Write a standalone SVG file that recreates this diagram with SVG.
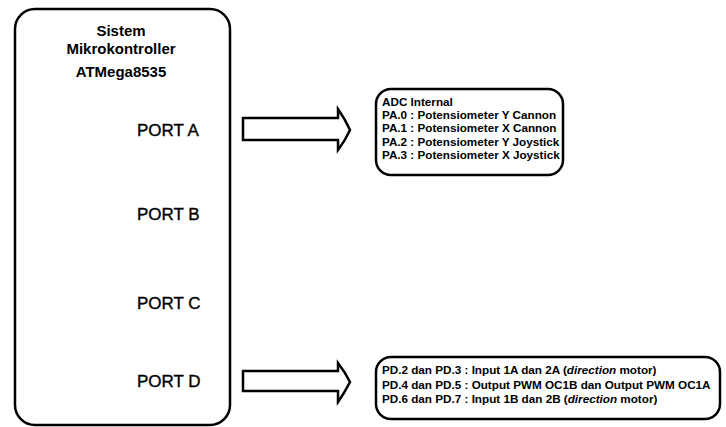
<svg xmlns="http://www.w3.org/2000/svg" width="726" height="427" viewBox="0 0 726 427">
<style>
.box{fill:#fff;stroke:#000;stroke-width:2.5}
.title{font-family:"Liberation Sans",Arial,sans-serif;font-weight:bold;font-size:15px;text-anchor:middle}
.port{font-family:"Liberation Sans",Arial,sans-serif;font-size:17px;stroke:#000;stroke-width:0.35}
.info{font-family:"Liberation Sans",Arial,sans-serif;font-weight:bold;font-size:11.7px}
.arrow{fill:#fff;stroke:#000;stroke-width:2.5;stroke-linejoin:miter}
</style>
<rect width="726" height="427" fill="#fff"/>
<g id="mcu">
<rect class="box" x="15" y="9" width="215" height="416" rx="20"/>
<text class="title" x="121" y="36">Sistem</text>
<text class="title" x="121" y="54">Mikrokontroller</text>
<text class="title" x="121" y="77">ATMega8535</text>
<text class="port" x="137" y="136">PORT A</text>
<text class="port" x="137" y="220">PORT B</text>
<text class="port" x="137" y="309">PORT C</text>
<text class="port" x="137" y="387">PORT D</text>
</g>
<g id="connectors">
<path class="arrow" d="M243,118 H338 V109 Q345,119 350,130 Q345,141 338,150 V140 H243 Z"/>
<path class="arrow" d="M243,371 H338 V363 Q345,372 350,382 Q345,392 338,402 V391 H243 Z"/>
</g>
<g id="portA-info">
<rect class="box" x="376" y="89" width="187" height="86" rx="15"/>
<text class="info" x="382" y="106">ADC Internal</text>
<text class="info" x="382" y="119">PA.0 : Potensiometer Y Cannon</text>
<text class="info" x="382" y="132">PA.1 : Potensiometer X Cannon</text>
<text class="info" x="382" y="145.5">PA.2 : Potensiometer Y Joystick</text>
<text class="info" x="382" y="159">PA.3 : Potensiometer X Joystick</text>
</g>
<g id="portD-info">
<rect class="box" x="376" y="357" width="344" height="62" rx="15"/>
<text class="info" x="382" y="374">PD.2 dan PD.3 : Input 1A dan 2A (<tspan font-style="italic">direction</tspan> motor)</text>
<text class="info" x="382" y="388.5">PD.4 dan PD.5 : Output PWM OC1B dan Output PWM OC1A</text>
<text class="info" x="382" y="403">PD.6 dan PD.7 : Input 1B dan 2B (<tspan font-style="italic">direction</tspan> motor)</text>
</g>
</svg>
